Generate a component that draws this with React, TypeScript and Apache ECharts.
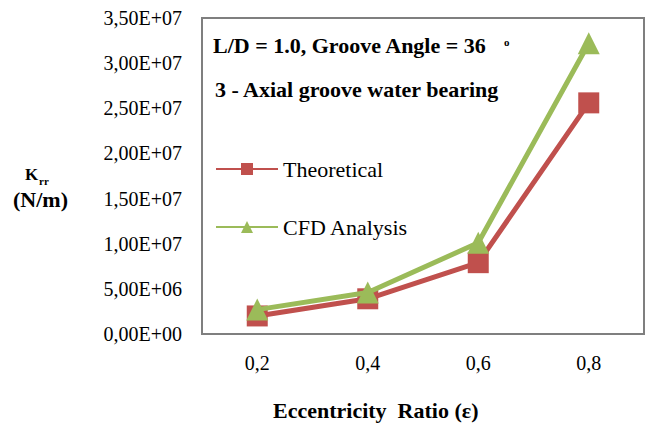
import React, { useEffect, useRef } from "react";
import * as echarts from "echarts";

const categories = ["0,2", "0,4", "0,6", "0,8"];
const theoretical = [2.0e6, 3.9e6, 7.9e6, 2.56e7];
const cfdAnalysis = [2.7e6, 4.6e6, 1.01e7, 3.22e7];
const seriesNames = ["Theoretical", "CFD Analysis"];

const FONT = "serif";
const FRAME = "#7f7f7f";

function sciLabel(v: number): string {
  if (v === 0) return "0,00E+00";
  const exp = Math.floor(Math.log10(v));
  const mant = v / Math.pow(10, exp);
  return mant.toFixed(2).replace(".", ",") + "E+" + String(exp).padStart(2, "0");
}

function label(text: string, left: number, top: number, size: number) {
  return {
    type: "text",
    left,
    top,
    style: { text, fontFamily: FONT, fontWeight: "bold", fontSize: size, fill: "#000" },
  };
}

export default function App() {
  const ref = useRef<HTMLDivElement>(null);
  useEffect(() => {
    document.body.style.margin = "0";
    if (!ref.current) return;
    const chart = echarts.init(ref.current, undefined, { renderer: "svg" });
    chart.setOption({
      animation: false,
      textStyle: { fontFamily: FONT },
      grid: {
        left: 202,
        right: 2,
        top: 18,
        bottom: 89,
        show: true,
        borderColor: FRAME,
        borderWidth: 2,
      },
      legend: {
        data: seriesNames,
        orient: "vertical",
        left: 210,
        top: 153,
        itemWidth: 62,
        itemHeight: 15,
        itemGap: 36,
        textStyle: { fontFamily: FONT, fontSize: 22, color: "#000" },
      },
      xAxis: {
        type: "category",
        data: categories,
        boundaryGap: true,
        axisLine: { show: false },
        axisTick: { show: false },
        axisLabel: { margin: 19, fontFamily: FONT, fontSize: 20, color: "#000" },
      },
      yAxis: {
        type: "value",
        min: 0,
        max: 3.5e7,
        interval: 5e6,
        splitLine: { show: false },
        axisLine: { show: false },
        axisTick: { show: false },
        axisLabel: {
          margin: 20,
          fontFamily: FONT,
          fontSize: 20,
          color: "#000",
          formatter: (v: number) => sciLabel(v),
        },
      },
      series: [
        {
          name: seriesNames[0],
          type: "line",
          data: theoretical,
          symbol: "rect",
          symbolSize: 21,
          lineStyle: { width: 5, color: "#C0504D" },
          itemStyle: { color: "#C0504D" },
          z: 2,
        },
        {
          name: seriesNames[1],
          type: "line",
          data: cfdAnalysis,
          symbol: "triangle",
          symbolSize: 22,
          lineStyle: { width: 5, color: "#9BBB59" },
          itemStyle: { color: "#9BBB59" },
          z: 3,
        },
      ],
      graphic: [
        label("L/D = 1.0, Groove Angle = 36", 213, 34, 22),
        label("o", 504, 36, 11),
        label("3 - Axial groove water bearing", 215, 78, 22),
        label("K", 25, 166, 17),
        label("rr", 39, 175, 11),
        label("(N/m)", 13, 188, 22),
        label("Eccentricity  Ratio (\u03b5)", 273, 399, 22),
      ],
    });
    return () => chart.dispose();
  }, []);
  return <div ref={ref} style={{ width: 646, height: 423 }} />;
}
